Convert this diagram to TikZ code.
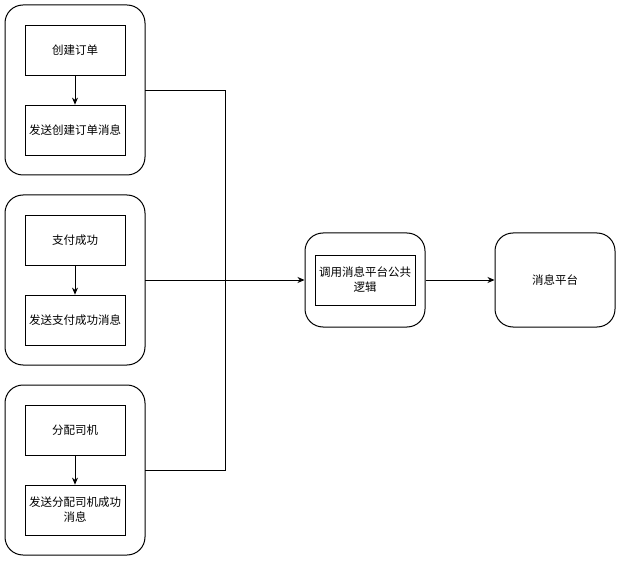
\documentclass[tikz,border=0pt]{standalone}
\usepackage{fontspec}
\newfontfamily\cjk{Noto Sans CJK SC}
\usetikzlibrary{arrows.meta}
\begin{document}
\begin{tikzpicture}[x=1pt,y=-1pt,
  grp/.style={draw,line width=1pt,rounded corners=18pt},
  box/.style={draw,line width=0.8pt,minimum width=100pt,minimum height=50pt,inner sep=1pt,align=center,text width=98pt,font=\cjk\fontsize{11.5}{15}\selectfont},
  arr/.style={line width=0.8pt,-{Stealth[length=7pt,width=6pt]}},
  ln/.style={line width=0.8pt}]
\useasboundingbox (0,0) rectangle (621,561);
\draw[grp] (5,5) rectangle (145,175);
\draw[grp] (5,195) rectangle (145,365);
\draw[grp] (5,385) rectangle (145,555);
\node[grp,minimum width=120pt,minimum height=94pt] (mid) at (365,280) {};
\node[grp,minimum width=120pt,minimum height=94pt,font=\cjk\fontsize{11.5}{15}\selectfont] (plat) at (555,280) {消息平台};
\node[box] (a1) at (75,50) {创建订单};
\node[box] (a2) at (75,130) {发送创建订单消息};
\node[box] (b1) at (75,240) {支付成功};
\node[box] (b2) at (75,320) {发送支付成功消息};
\node[box] (c1) at (75,430) {分配司机};
\node[box] (c2) at (75,510) {发送分配司机成功\\消息};
\node[box] (m) at (365,280) {调用消息平台公共\\逻辑};
\draw[arr] (a1) -- (a2);
\draw[arr] (b1) -- (b2);
\draw[arr] (c1) -- (c2);
\coordinate (ga) at (145,90);
\coordinate (gb) at (145,280);
\coordinate (gc) at (145,470);
\draw[ln] (ga) -| (225,280);
\draw[ln] (gc) -| (225,280);
\draw[arr] (gb) -- (mid.west);
\draw[arr] (mid.east) -- (plat.west);
\end{tikzpicture}
\end{document}
